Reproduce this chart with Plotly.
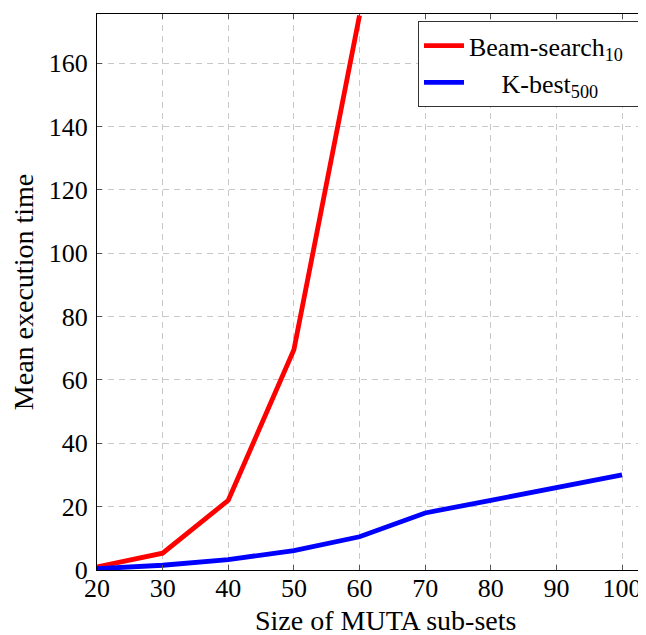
import plotly.graph_objects as go

sizes_beam = [20, 30, 40, 50, 60]
beam_time = [1.0, 5.3, 22.0, 69.5, 175.0]
sizes_kbest = [20, 30, 40, 50, 60, 70, 80, 90, 100]
kbest_time = [0.4, 1.5, 3.3, 6.1, 10.5, 18.0, 22.0, 26.0, 30.0]
x_ticks = [20, 30, 40, 50, 60, 70, 80, 90, 100]
y_ticks = [0, 20, 40, 60, 80, 100, 120, 140, 160]

font_family = "Liberation Serif"
tick_fs = 26
title_fs = 28
legend_fs = 26

fig = go.Figure()
fig.add_trace(go.Scatter(x=sizes_beam, y=beam_time, mode="lines",
                         name="Beam-search<sub>10</sub>\u00a0\u00a0",
                         line=dict(color="#ff0000", width=4.8)))
fig.add_trace(go.Scatter(x=sizes_kbest, y=kbest_time, mode="lines",
                         name="\u00a0\u00a0\u00a0\u00a0\u00a0K-best<sub>500</sub>",
                         line=dict(color="#0000ff", width=4.8)))

axis_common = dict(
    showgrid=True, gridcolor="#c8c8c8", griddash="6px,5px", gridwidth=1,
    showline=True, linecolor="black", linewidth=1.2, mirror="ticks",
    ticks="inside", ticklen=5, tickcolor="#555555", tickwidth=1,
    zeroline=False,
    tickfont=dict(family=font_family, size=tick_fs, color="black"),
)

# The page body has an 8px margin, so the figure is offset by 8px.
fig.update_layout(
    width=638, height=635,
    margin=dict(l=89, r=1, t=6, b=73),
    plot_bgcolor="white", paper_bgcolor="white",
    font=dict(family=font_family, size=tick_fs, color="black"),
    xaxis=dict(range=[20, 103.5], tickvals=x_ticks, ticklabelstandoff=-5, **axis_common),
    yaxis=dict(range=[0, 175.5], tickvals=y_ticks, ticklabelstandoff=3,
               title=dict(text="Mean execution time", font=dict(family=font_family, size=title_fs), standoff=8),
               **axis_common),
    legend=dict(x=0.9945, y=0.987, xanchor="right", yanchor="top",
                bgcolor="white", bordercolor="#333333", borderwidth=1,
                font=dict(family=font_family, size=legend_fs), itemwidth=40,
                tracegroupgap=0),
    showlegend=True,
    annotations=[dict(text="Size of MUTA sub-sets", xref="paper", yref="paper",
                      x=0.5265, y=-0.09, xanchor="center", yanchor="middle",
                      showarrow=False, font=dict(family=font_family, size=title_fs))],
)

fig.write_html("out.html")
